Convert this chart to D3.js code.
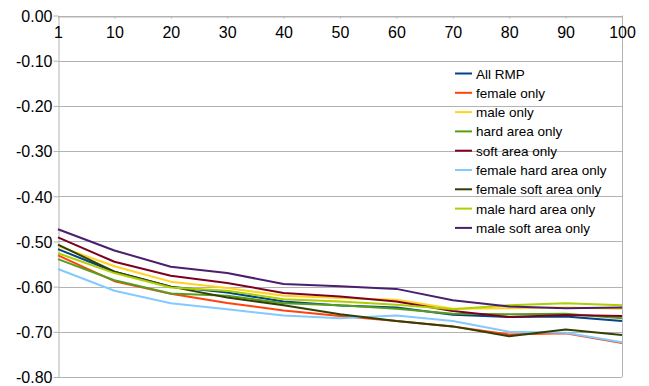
<!DOCTYPE html>
<html>
<head>
<meta charset="utf-8">
<script src="https://cdn.jsdelivr.net/npm/d3@7"></script>
<style>
  html, body { margin: 0; padding: 0; background: #fff; }
  svg { display: block; font-family: "Liberation Sans", Arial, sans-serif; }
</style>
</head>
<body>
<svg id="chart" width="649" height="386"></svg>
<script>
const categories = ['1', '10', '20', '30', '40', '50', '60', '70', '80', '90', '100']
const yTicks = [0, -0.1, -0.2, -0.3, -0.4, -0.5, -0.6, -0.7, -0.8]

const allRmp = [-0.517, -0.567, -0.600, -0.613, -0.633, -0.642, -0.646, -0.662, -0.667, -0.666, -0.676]
const femaleOnly = [-0.531, -0.588, -0.616, -0.636, -0.653, -0.665, -0.676, -0.688, -0.706, -0.703, -0.725]
const maleOnly = [-0.510, -0.555, -0.589, -0.603, -0.620, -0.625, -0.629, -0.649, -0.648, -0.646, -0.649]
const hardAreaOnly = [-0.539, -0.586, -0.615, -0.620, -0.637, -0.641, -0.649, -0.660, -0.661, -0.660, -0.670]
const softAreaOnly = [-0.491, -0.545, -0.576, -0.592, -0.614, -0.622, -0.633, -0.654, -0.667, -0.663, -0.665]
const femaleHardArea = [-0.561, -0.609, -0.637, -0.650, -0.664, -0.670, -0.664, -0.676, -0.700, -0.702, -0.723]
const femaleSoftArea = [-0.507, -0.567, -0.600, -0.624, -0.641, -0.661, -0.676, -0.688, -0.710, -0.695, -0.707]
const maleHardArea = [-0.526, -0.570, -0.602, -0.609, -0.628, -0.633, -0.640, -0.650, -0.641, -0.637, -0.641]
const maleSoftArea = [-0.473, -0.520, -0.556, -0.570, -0.594, -0.599, -0.605, -0.630, -0.644, -0.648, -0.646]

const seriesNames = ['All RMP', 'female only', 'male only', 'hard area only', 'soft area only',
  'female hard area only', 'female soft area only', 'male hard area only', 'male soft area only']
const seriesValues = [allRmp, femaleOnly, maleOnly, hardAreaOnly, softAreaOnly,
  femaleHardArea, femaleSoftArea, maleHardArea, maleSoftArea]
const colors = ['#004586', '#ff420e', '#ffd320', '#579d1c', '#7e0021',
  '#83caff', '#314004', '#aecf00', '#4b1f6f']

const margin = {top: 15.5, right: 27, bottom: 9, left: 58}
const width = 649
const height = 386
const grid = '#b3b3b3'

const svg = d3.select('#chart')

const x = d3.scalePoint()
  .domain(categories)
  .range([margin.left, width - margin.right])

const y = d3.scaleLinear()
  .domain([-0.8, 0])
  .range([height - margin.bottom, margin.top])

// horizontal gridlines
svg.append('g')
  .selectAll('line')
  .data(yTicks)
  .join('line')
    .attr('x1', margin.left)
    .attr('x2', width - margin.right)
    .attr('y1', d => Math.round(y(d)) + 0.5)
    .attr('y2', d => Math.round(y(d)) + 0.5)
    .attr('stroke', grid)

// right border
svg.append('line')
  .attr('x1', width - margin.right + 0.5)
  .attr('x2', width - margin.right + 0.5)
  .attr('y1', y(0))
  .attr('y2', y(-0.8))
  .attr('stroke', grid)

const yAxis = g => g
  .attr('transform', `translate(${margin.left + 0.5}, 0)`)
  .call(d3.axisLeft(y).tickValues(yTicks).tickFormat(d => d.toFixed(2)).tickSize(5).tickSizeOuter(0))
  .call(g => g.selectAll('.domain').attr('stroke', grid))
  .call(g => g.selectAll('.tick line').attr('stroke', grid))
  .call(g => g.selectAll('.tick text')
    .attr('x', -6)
    .attr('dy', '0.36em')
    .attr('fill', '#000')
    .style('font-size', '16px'))

const xAxis = g => g
  .attr('transform', `translate(0, ${Math.round(y(0)) + 0.5})`)
  .call(d3.axisBottom(x).tickSize(2).tickSizeOuter(0))
  .call(g => g.select('.domain').attr('stroke', grid))
  .call(g => g.selectAll('.tick line').attr('stroke', grid))
  .call(g => g.selectAll('.tick text')
    .attr('y', 21)
    .attr('dy', 0)
    .attr('fill', '#000')
    .style('font-size', '16px'))

svg.append('g').attr('class', 'y-axis').call(yAxis)
svg.append('g').attr('class', 'x-axis').call(xAxis)

const line = d3.line()
  .x((d, i) => x(categories[i]))
  .y(d => y(d))

svg.append('g')
  .attr('class', 'lines')
  .selectAll('path')
  .data(seriesValues)
  .join('path')
    .attr('d', line)
    .attr('fill', 'none')
    .attr('stroke', (d, i) => colors[i])
    .attr('stroke-width', 2)
    .attr('stroke-linejoin', 'round')

// legend
const legend = svg.append('g')
  .attr('class', 'legend')
  .attr('transform', 'translate(455, 73.5)')

const item = legend.selectAll('g')
  .data(seriesNames)
  .join('g')
    .attr('transform', (d, i) => `translate(0, ${i * 19.3})`)

item.append('line')
  .attr('x1', 0)
  .attr('x2', 17)
  .attr('stroke', (d, i) => colors[i])
  .attr('stroke-width', 2)

item.append('text')
  .attr('x', 21)
  .attr('y', 5)
  .style('font-size', '13.5px')
  .text(d => d)
</script>
</body>
</html>
